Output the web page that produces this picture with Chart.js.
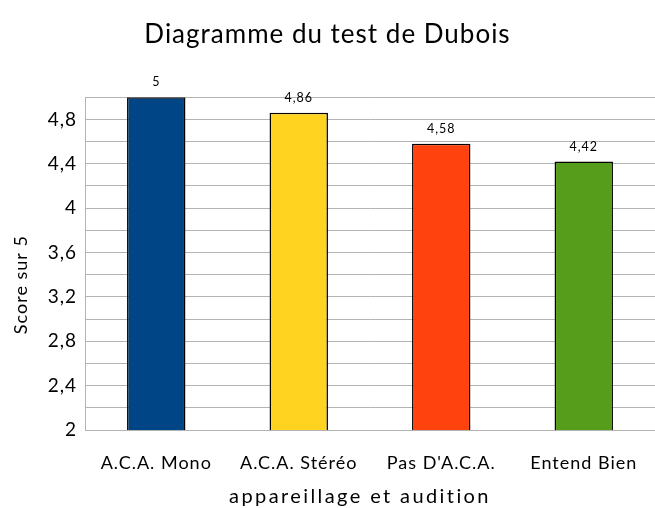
<!DOCTYPE html>
<html>
<head>
<meta charset="utf-8">
<script src="https://cdn.jsdelivr.net/npm/chart.js@4.4.0/dist/chart.umd.min.js"></script>
<style>
  html, body { margin: 0; padding: 0; background: #fff; }
  #wrap { width: 655px; height: 508px; }
</style>
</head>
<body>
<div id="wrap"><canvas id="barChart" width="655" height="508"></canvas></div>
<script>
const categories = ['A.C.A. Mono', 'A.C.A. Stéréo', "Pas D'A.C.A.", 'Entend Bien'];
const scores = [5, 4.86, 4.58, 4.42];
const barColors = ['#004586', '#ffd320', '#ff420e', '#579d1c'];
const yMin = 2, yMax = 5, yStep = 0.2, yLabelEvery = 0.4;
const xTitle = 'appareillage et audition';
const yTitle = 'Score sur 5';

function frNum(v) {
    return String(Math.round(v * 100) / 100).replace('.', ',');
}

// a bit of letter spacing for all the text, like the original
const spacing = {
    id: 'spacing',
    beforeDraw(chart) {
        chart.ctx.letterSpacing = '1px';
    }
};

// values above bars + the two axis titles
const valueLabels = {
    id: 'valueLabels',
    afterDraw(chart) {
        const ctx = chart.ctx;
        const meta = chart.getDatasetMeta(0);
        const area = chart.chartArea;
        ctx.save();
        ctx.letterSpacing = '1px';
        ctx.font = '12.5px Lato';
        ctx.fillStyle = '#000';
        ctx.textAlign = 'center';
        ctx.textBaseline = 'alphabetic';
        meta.data.forEach(function (bar, i) {
            ctx.fillText(frNum(scores[i]), bar.x, bar.y - 11);
        });

        // x title, spaced out
        ctx.letterSpacing = '2.4px';
        ctx.font = '20px Lato';
        ctx.fillText(xTitle, (area.left + area.right) / 2 - 10, 503);

        // y title, sits a little below the middle of the plot
        ctx.letterSpacing = '1px';
        ctx.font = '18px Lato';
        ctx.textBaseline = 'middle';
        ctx.translate(21, (area.top + area.bottom) / 2 + 21);
        ctx.rotate(-Math.PI / 2);
        ctx.fillText(yTitle, 0, 0);
        ctx.restore();
    }
};

new Chart(document.getElementById('barChart'), {
    type: 'bar',
    data: {
        labels: categories,
        datasets: [{
            label: 'Score',
            data: scores,
            backgroundColor: barColors,
            borderColor: '#000',
            borderWidth: 1.5,
            borderSkipped: false,
            categoryPercentage: 1,
            barPercentage: 0.41
        }]
    },
    plugins: [spacing, valueLabels],
    options: {
        responsive: false,
        animation: false,
        layout: { padding: 0 },
        plugins: {
            legend: { display: false },
            tooltip: { enabled: false },
            title: {
                display: true,
                text: 'Diagramme du test de Dubois',
                color: '#000',
                font: { family: 'Lato', size: 26, weight: 'normal' },
                padding: { top: 19, bottom: 47 }
            }
        },
        scales: {
            x: {
                grid: { display: false, drawTicks: false },
                border: { display: true, color: '#b3b3b3', width: 1 },
                ticks: { color: '#000', font: { family: 'Lato', size: 18 }, padding: 22, maxRotation: 0 },
                afterFit: function (scale) { scale.height = 78; }
            },
            y: {
                min: yMin,
                max: yMax,
                grid: { color: '#b3b3b3', lineWidth: 1, drawTicks: false },
                border: { display: true, color: '#b3b3b3', width: 1 },
                ticks: {
                    stepSize: yStep,
                    autoSkip: false,
                    color: '#000',
                    font: { family: 'Lato', size: 19 },
                    padding: 8,
                    callback: function (v) {
                        const k = Math.round((v - yMin) / yStep);
                        if (v >= yMax - 1e-9) return '';
                        return (k % Math.round(yLabelEvery / yStep) === 0) ? frNum(v) : '';
                    }
                },
                afterFit: function (scale) { scale.width = 85; }
            }
        }
    }
});
</script>
</body>
</html>
